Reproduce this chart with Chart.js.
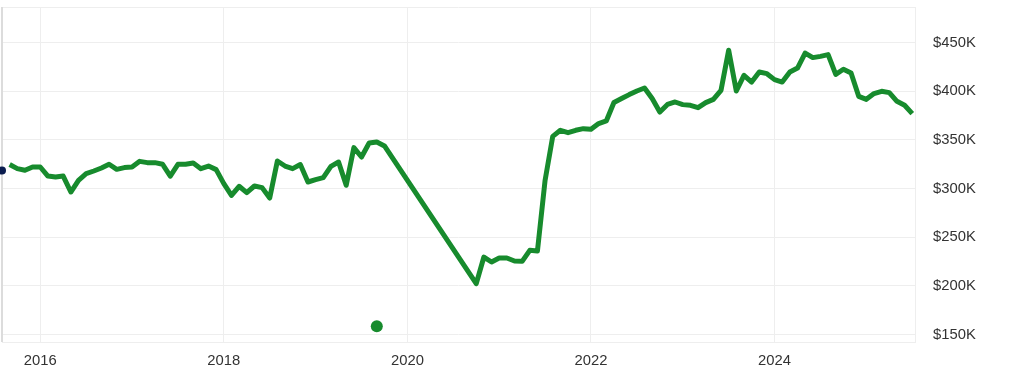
<!DOCTYPE html>
<html>
<head>
<meta charset="utf-8">
<script src="https://cdn.jsdelivr.net/npm/chart.js@4"></script>
<style>
    html, body { margin: 0; padding: 0; background: #fff; }
    #wrap { position: relative; width: 1018px; height: 383px; }
</style>
</head>
<body>
<div id="wrap"><canvas id="myChart" width="1018" height="383"></canvas></div>
<script>
// monthly values
const months = [
    '2015-09', '2015-10', '2015-11', '2015-12',
    '2016-01', '2016-02', '2016-03', '2016-04', '2016-05', '2016-06', '2016-07', '2016-08', '2016-09', '2016-10', '2016-11', '2016-12',
    '2017-01', '2017-02', '2017-03', '2017-04', '2017-05', '2017-06', '2017-07', '2017-08', '2017-09', '2017-10', '2017-11', '2017-12',
    '2018-01', '2018-02', '2018-03', '2018-04', '2018-05', '2018-06', '2018-07', '2018-08', '2018-09', '2018-10', '2018-11', '2018-12',
    '2019-01', '2019-02', '2019-03', '2019-04', '2019-05', '2019-06', '2019-07', '2019-08', '2019-09', '2019-10',
    '2020-10', '2020-11', '2020-12',
    '2021-01', '2021-02', '2021-03', '2021-04', '2021-05', '2021-06', '2021-07', '2021-08', '2021-09', '2021-10', '2021-11', '2021-12',
    '2022-01', '2022-02', '2022-03', '2022-04', '2022-05', '2022-06', '2022-07', '2022-08', '2022-09', '2022-10', '2022-11', '2022-12',
    '2023-01', '2023-02', '2023-03', '2023-04', '2023-05', '2023-06', '2023-07', '2023-08', '2023-09', '2023-10', '2023-11', '2023-12',
    '2024-01', '2024-02', '2024-03', '2024-04', '2024-05', '2024-06', '2024-07', '2024-08', '2024-09', '2024-10', '2024-11', '2024-12',
    '2025-01', '2025-02', '2025-03', '2025-04', '2025-05', '2025-06', '2025-07'
];
const prices = [
    324700, 320500, 318800, 322200,
    322200, 312900, 311900, 312900, 296500, 308500, 315400, 318100, 321200, 325000, 319800, 321600,
    322200, 328000, 326700, 326700, 325000, 312900, 325000, 325000, 326300, 320500, 323200, 319500,
    305100, 293100, 302400, 295900, 302700, 301000, 290300, 328400, 323200, 320500, 324700, 306800,
    309200, 311300, 322900, 327300, 303400, 342100, 332500, 346800, 347900, 343800,
    202400, 229700, 224600,
    228700, 228700, 225600, 225300, 236600, 235900, 308500, 353700, 359900, 357500, 359900, 361600,
    360900, 366800, 369500, 388400, 392500, 396600, 400300, 403400, 392500, 378700, 386500, 389000,
    386300, 385600, 383200, 388400, 391700, 401000, 442100, 400300, 416400, 409500, 419800, 418100,
    412000, 409500, 419800, 423900, 439300, 434600, 435900, 437700, 417400, 422600, 418800, 394800,
    391700, 397600, 400000, 398600, 389700, 385600, 377100
];

// the two single markers
const startMonth = '2015-08';
const startValue = 318600;
const saleMonth = '2019-09';
const saleValue = 158500;

const yearTicks = [2016, 2018, 2020, 2022, 2024];
const priceTicks = [150000, 200000, 250000, 300000, 350000, 400000, 450000];

function toYear(s) {
    var p = s.split('-');
    return Number(p[0]) + (Number(p[1]) - 1) / 12;
}

const lineData = months.map((m, i) => ({x: toYear(m), y: prices[i]}));

const frame = {
    id: 'frame',
    beforeDatasetsDraw(chart) {
        const a = chart.chartArea;
        const ctx = chart.ctx;
        ctx.save();
        ctx.strokeStyle = '#eeeeee';
        ctx.lineWidth = 1;
        ctx.beginPath();
        ctx.moveTo(a.left, a.top + 0.5);
        ctx.lineTo(a.right, a.top + 0.5);
        ctx.stroke();
        ctx.strokeStyle = '#dcdcdc';
        ctx.lineWidth = 2;
        ctx.beginPath();
        ctx.moveTo(a.left, a.top);
        ctx.lineTo(a.left, a.bottom);
        ctx.stroke();
        ctx.restore();
    }
};

Chart.defaults.font.family = '"Liberation Sans", Arial, sans-serif';
Chart.defaults.font.size = 14.8;
Chart.defaults.color = '#333';

var chartContext = document.getElementById('myChart').getContext('2d');
var myChart = new Chart(chartContext, {
    type: 'line',
    data: {
        datasets: [{
            data: lineData,
            borderColor: '#178b2d',
            borderWidth: 5,
            pointRadius: 0,
            tension: 0,
            borderJoinStyle: 'round',
            clip: false
        }, {
            data: [{x: toYear(saleMonth), y: saleValue}],
            showLine: false,
            pointRadius: 6,
            pointBackgroundColor: '#178b2d',
            pointBorderWidth: 0,
            clip: false
        }, {
            data: [{x: toYear(startMonth), y: startValue}],
            showLine: false,
            pointRadius: 4,
            pointBackgroundColor: '#0b1d4f',
            pointBorderWidth: 0,
            clip: false
        }]
    },
    options: {
        responsive: false,
        animation: false,
        layout: {
            autoPadding: false,
            padding: {top: 7, left: 2, right: 0, bottom: 0}
        },
        plugins: {
            legend: {display: false},
            tooltip: {enabled: false}
        },
        scales: {
            x: {
                type: 'linear',
                min: toYear(startMonth),
                max: 2025.53,
                afterBuildTicks: (axis) => {
                    axis.ticks = yearTicks.map(v => ({value: v}));
                },
                afterFit: (axis) => {
                    axis.height = 41;
                    axis.paddingLeft = 0;
                    axis.paddingRight = 0;
                },
                ticks: {
                    padding: 10,
                    maxRotation: 0,
                    callback: (v) => String(v)
                },
                grid: {color: '#eeeeee', drawTicks: false},
                border: {display: true, color: '#eeeeee'}
            },
            y: {
                position: 'right',
                min: 142400,
                max: 486600,
                afterBuildTicks: (axis) => {
                    axis.ticks = priceTicks.map(v => ({value: v}));
                },
                afterFit: (axis) => {
                    axis.width = 103;
                    axis.paddingTop = 0;
                    axis.paddingBottom = 0;
                },
                ticks: {
                    padding: 18,
                    callback: (v) => '$' + (v / 1000) + 'K'
                },
                grid: {color: '#eeeeee', drawTicks: false},
                border: {display: true, color: '#eeeeee'}
            }
        }
    },
    plugins: [frame]
});
</script>
</body>
</html>
